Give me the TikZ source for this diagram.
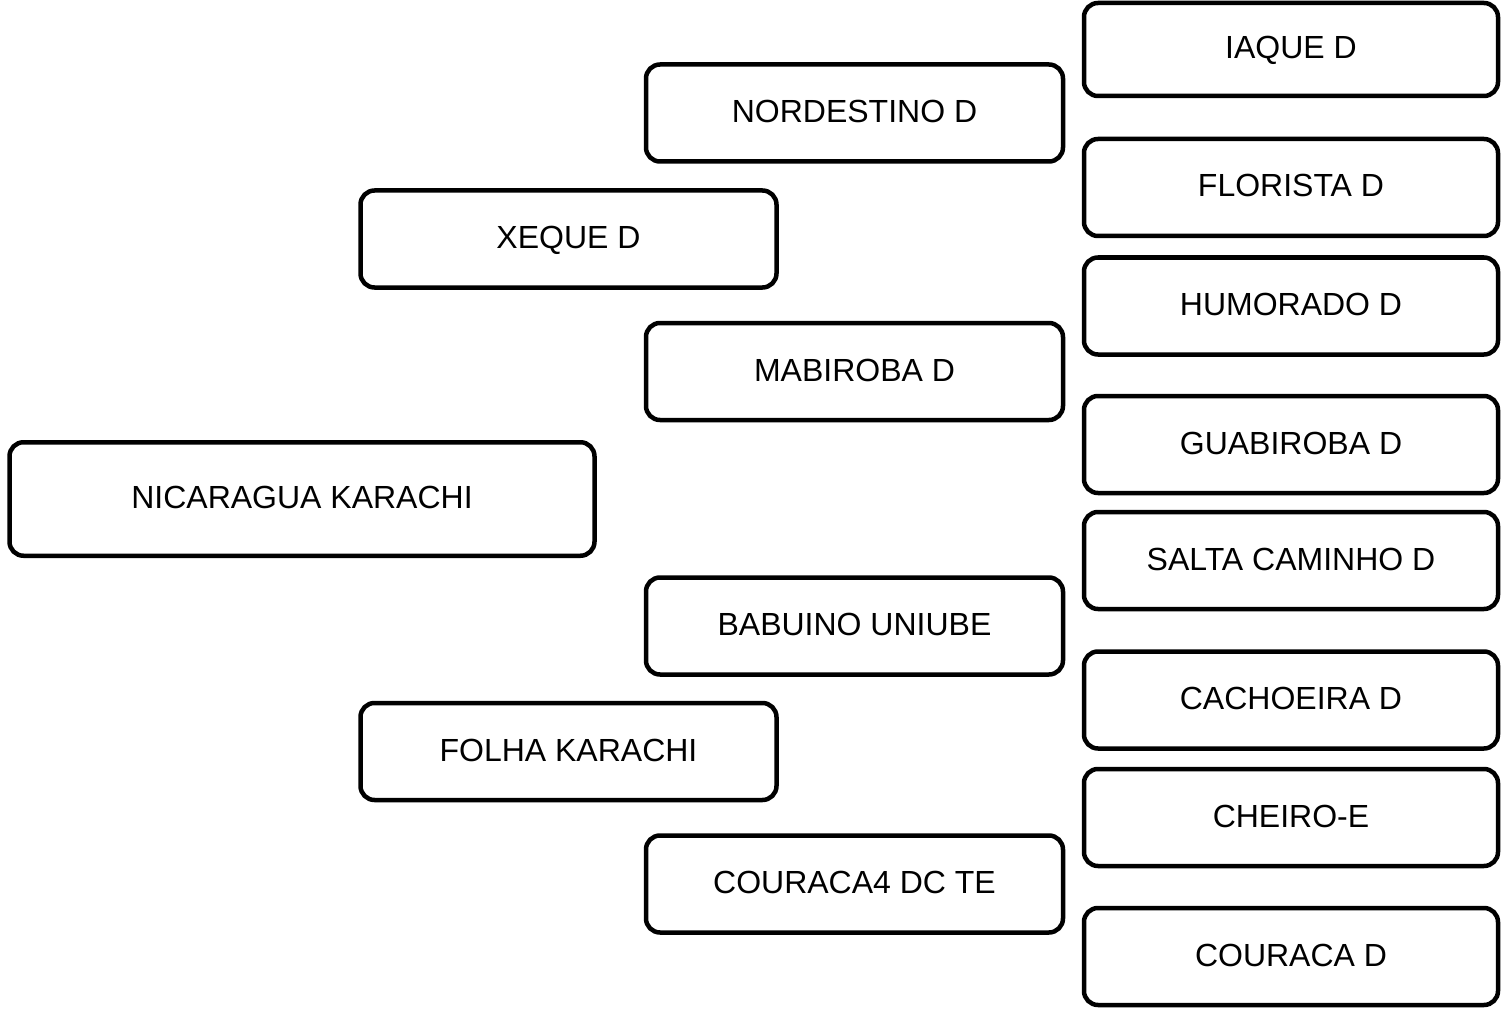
\documentclass[tikz,border=0pt]{standalone}
\usepackage{fontspec}
\setmainfont{Liberation Sans}
\usepackage{tikz}
\usetikzlibrary{positioning}

\begin{document}
\begin{tikzpicture}[x=0.5pt, y=-0.5pt,
    box/.style={draw, line width=2.25pt, rounded corners=7pt, fill=white,
      font=\fontsize{16}{19}\selectfont, text height=11.5pt, text depth=2pt,
      minimum height=48.5pt, inner sep=0pt},
    colA/.style={box, minimum width=292.5pt, minimum height=56.75pt},
    colB/.style={box, minimum width=208pt},
    colC/.style={box, minimum width=208.5pt},
    colD/.style={box, minimum width=207pt}]
    \useasboundingbox (0,0) rectangle (1501,1011);
    % First generation
    \node[colA] (nicaragua) at (302,499) {NICARAGUA KARACHI};
    % Parents
    \node[colB] (xeque) at (568.5,239) {XEQUE D};
    \node[colB] (folha) at (568.5,751.5) {FOLHA KARACHI};
    % Grandparents
    \node[colC] (nordestino) at (854.5,113) {NORDESTINO D};
    \node[colC] (mabiroba) at (854.5,371.5) {MABIROBA D};
    \node[colC] (babuino) at (854.5,626) {BABUINO UNIUBE};
    \node[colC] (couraca4) at (854.5,884) {COURACA4 DC TE};
    % Great-grandparents
    \node[colD, minimum height=46.5pt] (iaque) at (1291,49.5) {IAQUE D};
    \node[colD] (florista) at (1291,187.5) {FLORISTA D};
    \node[colD] (humorado) at (1291,306) {HUMORADO D};
    \node[colD] (guabiroba) at (1291,444.5) {GUABIROBA D};
    \node[colD] (salta) at (1291,560.5) {SALTA CAMINHO D};
    \node[colD] (cachoeira) at (1291,700) {CACHOEIRA D};
    \node[colD] (cheiro) at (1291,817.5) {CHEIRO-E};
    \node[colD] (couraca) at (1291,956.5) {COURACA D};
\end{tikzpicture}
\end{document}
